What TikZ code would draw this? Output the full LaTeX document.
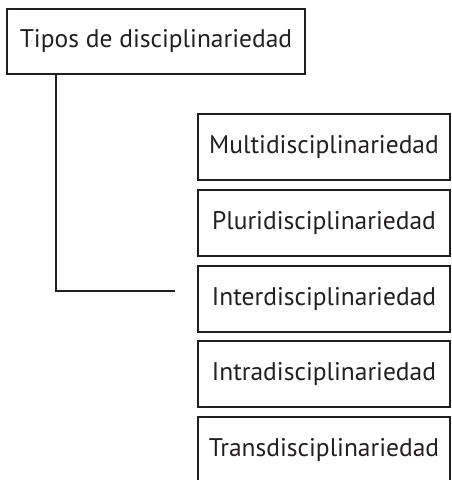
\documentclass[tikz,border=0pt]{standalone}
\usepackage{fontspec}
\setmainfont{PT Sans}
\usepackage{xcolor}
\definecolor{ink}{HTML}{231F20}

\begin{document}
\begin{tikzpicture}[x=1pt, y=-1pt,
		box/.style={draw=ink, line width=2pt, text=ink, font=\fontsize{25.5}{30}\selectfont, inner sep=0pt, minimum height=66pt},
		kind/.style={box, minimum width=252pt}]
			\useasboundingbox (0,0) rectangle (451,480);

			\node[box, minimum width=298pt, minimum height=65pt] (tipos) at (156,41.5) {Tipos de disciplinariedad};

			\node[kind] (multi) at (324,147) {Multidisciplinariedad};
			\node[kind] (pluri) at (324,222.8) {Pluridisciplinariedad};
			\node[kind] (inter) at (324,298.9) {Interdisciplinariedad};
			\node[kind] (intra) at (324,374.4) {Intradisciplinariedad};
			\node[kind] (trans) at (324,449.6) {Transdisciplinariedad};

			\coordinate (bend) at (56,290.5);
			\coordinate (tip) at (175,290.5);

			\draw[ink, line width=2pt] (tipos.south -| bend) |- (tip);
		\end{tikzpicture}
\end{document}
